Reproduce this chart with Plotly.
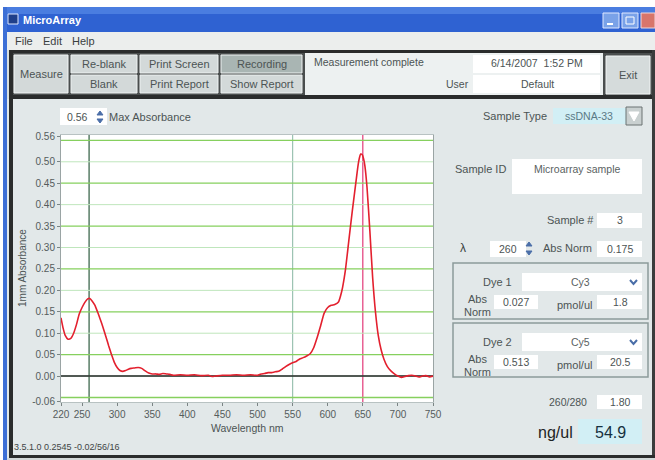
import plotly.graph_objects as go

# ---------------- data ----------------
wavelength_nm = [220, 223, 226, 230, 234, 238, 242, 246, 250, 254, 258, 261, 264, 268, 272, 276, 280,
                 284, 288, 292, 296, 300, 304, 308, 312, 316, 320, 325, 330, 335, 340, 345, 350, 355,
                 360, 365, 370, 375, 380, 390, 400, 410, 420, 430, 435, 440, 450, 460, 470, 480, 490,
                 500, 505, 510, 515, 520, 525, 530, 535, 540, 545, 550, 555, 560, 565, 570, 575, 580,
                 585, 590, 595, 600, 605, 610, 615, 620, 625, 630, 635, 640, 644, 647, 649, 651, 653,
                 656, 660, 664, 668, 672, 676, 680, 685, 690, 695, 700, 705, 710, 715, 720, 725, 730,
                 735, 740, 745, 750]
absorbance = [0.136, 0.112, 0.095, 0.086, 0.088, 0.100, 0.120, 0.145, 0.160, 0.172, 0.180, 0.181, 0.176,
              0.166, 0.150, 0.132, 0.113, 0.092, 0.070, 0.050, 0.032, 0.020, 0.013, 0.011, 0.013, 0.016,
              0.018, 0.019, 0.020, 0.018, 0.012, 0.007, 0.005, 0.005, 0.004, 0.006, 0.005, 0.004, 0.002,
              0.003, 0.002, 0.003, 0.001, 0.002, -0.001, 0.000, 0.002, 0.002, 0.003, 0.002, 0.003, 0.002,
              0.005, 0.006, 0.008, 0.008, 0.010, 0.011, 0.016, 0.022, 0.027, 0.031, 0.034, 0.040, 0.043,
              0.047, 0.052, 0.066, 0.090, 0.118, 0.147, 0.160, 0.165, 0.167, 0.172, 0.198, 0.245, 0.315,
              0.385, 0.450, 0.500, 0.518, 0.517, 0.508, 0.490, 0.440, 0.340, 0.230, 0.150, 0.095, 0.062,
              0.040, 0.022, 0.012, 0.005, 0.000, -0.003, -0.001, 0.001, 0.002, 0.000, -0.002, 0.000,
              0.001, -0.002, 0.000]
baseline_nm = [220, 750]
baseline_abs = [0.0, 0.0]
marker_nm = [260, 550, 650]
x_ticks = [220, 250, 300, 350, 400, 450, 500, 550, 600, 650, 700, 750]
y_ticks = [-0.06, 0.00, 0.05, 0.10, 0.15, 0.20, 0.25, 0.30, 0.35, 0.40, 0.45, 0.50, 0.56]
y_tick_text = ["-0.06", "0.00", "0.05", "0.10", "0.15", "0.20", "0.25", "0.30", "0.35",
               "0.40", "0.45", "0.50", "0.56"]
grid_levels = [-0.05, 0.00, 0.05, 0.10, 0.15, 0.20, 0.25, 0.30, 0.35, 0.40, 0.45, 0.50, 0.55]

# ---------------- geometry helpers ----------------
W, H = 655, 460
L, R, T, B = 61, 222, 135, 58
PW, PH = W - L - R, H - T - B


def px(x):
    return (x - L) / PW


def py(y):
    return 1 - (y - T) / PH


shapes = []
annos = []
FONT = "Liberation Sans, Arial, sans-serif"
PANEL = "#e2e8e9"


def rect(x0, y0, x1, y1, fill, line=None, lw=1):
    shapes.append(dict(type="rect", xref="paper", yref="paper", layer="below",
                       x0=px(x0), x1=px(x1), y0=py(y1), y1=py(y0), fillcolor=fill,
                       line=dict(color=line if line else fill, width=lw if line else 0)))


def path(d_pts, color, fill=None, lw=1, close=True):
    d = "M " + " L ".join(f"{px(a):.5f},{py(b):.5f}" for a, b in d_pts) + (" Z" if close else "")
    shapes.append(dict(type="path", xref="paper", yref="paper", layer="below", path=d,
                       fillcolor=fill if fill else "rgba(0,0,0,0)",
                       line=dict(color=color, width=lw)))


def text(x, y, s, size=11, color="#4c5454", anchor="left", bold=False, angle=0):
    annos.append(dict(xref="paper", yref="paper", x=px(x), y=py(y), text=f"<b>{s}</b>" if bold else s,
                      showarrow=False, xanchor=anchor, yanchor="middle", textangle=angle,
                      font=dict(family=FONT, size=size, color=color), borderpad=0))


# ---------------- window chrome ----------------
rect(0, 0, 655, 7, "#ffffff")
rect(0, 0, 3, 460, "#ffffff")
rect(3, 7, 655, 32, "#2f62d2")
rect(3, 7, 655, 14, "#4a7de0")
rect(3, 7, 7, 460, "#3d6fd6")
rect(8, 14, 18, 24, "#1f3f8a", "#dfe8ff", 1)
text(22, 20, "MicroArray", size=11, color="#ffffff", bold=True)
rect(603, 13, 619, 28, "#7aa2e8", "#dfe8ff", 1)
rect(622, 13, 638, 28, "#7aa2e8", "#dfe8ff", 1)
rect(641, 13, 655, 28, "#d8756a", "#f0d8d8", 1)
rect(607, 23, 613, 25, "#ffffff")
rect(626, 17, 634, 24, "rgba(0,0,0,0)", "#ffffff", 1)
# menu
rect(7, 32, 655, 50, "#eceeed")
text(14, 41, "File", size=11, color="#3a3f3f")
text(42, 41, "Edit", size=11, color="#3a3f3f")
text(71, 41, "Help", size=11, color="#3a3f3f")
# toolbar
rect(7, 50, 655, 99, "#d9dfdf")
rect(9, 50, 655, 53, "#2a2c2c")
rect(9, 95, 655, 99, "#2a2c2c")
rect(9, 50, 13, 458, "#2a2c2c")
rect(652, 50, 655, 458, "#3a3c3c")
rect(13, 53, 305, 95, "#4a4e4e")
rect(14, 55, 68, 93, "#d3d9d9", "#f2f5f5", 1)
text(41, 74, "Measure", anchor="center")
btns = [(71, 137, "Re-blank", "Blank"), (140, 218, "Print Screen", "Print Report"),
        (221, 302, "Recording", "Show Report")]
for x0, x1, t1, t2 in btns:
    rect(x0, 55, x1, 73, "#a9b5b3" if t1 == "Recording" else "#d3d9d9", "#eef2f2", 1)
    rect(x0, 75, x1, 93, "#d3d9d9", "#eef2f2", 1)
    text((x0 + x1) / 2, 64, t1, anchor="center")
    text((x0 + x1) / 2, 84, t2, anchor="center")
rect(305, 53, 603, 95, "#edf1f1")
text(313, 62, "Measurement complete", size=10.5)
rect(473, 55, 600, 73, "#ffffff")
rect(473, 75, 600, 93, "#ffffff")
text(537, 63, "6/14/2007  1:52 PM", size=10.5, anchor="center")
text(537, 84, "Default", size=10.5, anchor="center")
text(445, 84, "User", size=10.5)
rect(603, 53, 652, 95, "#4a4e4e")
rect(606, 56, 650, 94, "#d5dbdb", "#f2f5f5", 1)
text(628, 75, "Exit", anchor="center")
# bottom
rect(9, 455, 655, 458, "#2a2c2c")
rect(7, 458, 655, 460, "#d2d8d8")

# ---------------- left chart extras ----------------
rect(60, 108, 107, 125, "#ffffff")
text(66, 117, "0.56", size=10.5)
path([(97, 115), (103, 115), (100, 111)], "#4a6ea8", "#4a6ea8")
path([(97, 119), (103, 119), (100, 123)], "#4a6ea8", "#4a6ea8")
text(108, 117, "Max Absorbance", size=11)
text(22, 268, "1mm Absorbance", size=10, angle=-90, anchor="center")
text(247, 428, "Wavelength nm", size=10.5, anchor="center")
text(13, 447, "3.5.1.0 0.2545 -0.02/56/16", size=9, color="#3f4545")

# ---------------- right panel ----------------
text(548, 116, "Sample Type", anchor="right")
rect(553, 108, 626, 124, "#d2eff5")
text(589, 116, "ssDNA-33", size=10.5, color="#5a7a86", anchor="center")
rect(626, 107, 642, 125, "#c9d0d0", "#6a7272", 1)
path([(629, 112), (639, 112), (634, 121)], "#ffffff", "#ffffff")

text(507, 169, "Sample ID", anchor="right")
rect(512, 159, 642, 194, "#ffffff")
text(577, 169, "Microarray sample", size=10.5, color="#5a6262", anchor="center")

text(595, 220, "Sample #", anchor="right")
rect(597, 213, 642, 228, "#ffffff")
text(620, 220, "3", size=10.5, anchor="center")

text(463, 248, "\u03bb", size=12, color="#3a4040", anchor="center")
rect(490, 241, 526, 257, "#ffffff")
text(508, 249, "260", size=10.5, anchor="center")
path([(526, 246), (532, 246), (529, 242)], "#4a6ea8", "#4a6ea8")
path([(526, 251), (532, 251), (529, 255)], "#4a6ea8", "#4a6ea8")
text(593, 248, "Abs Norm", anchor="right")
rect(597, 241, 642, 257, "#ffffff")
text(620, 249, "0.175", size=10.5, anchor="center")

dyes = [(263, 319, "Dye 1", "Cy3", "0.027", "1.8"), (323, 377, "Dye 2", "Cy5", "0.513", "20.5")]
for y0, y1, name, dye, absn, pmol in dyes:
    rect(453, y0, 648, y1, "rgba(0,0,0,0)", "#8c9a9a", 1.5)
    text(513, y0 + 19, name, anchor="right")
    rect(522, y0 + 10, 642, y0 + 28, "#ffffff")
    text(580, y0 + 19, dye, size=10.5, color="#5a6262", anchor="center")
    path([(630, y0 + 17), (633.5, y0 + 21), (637, y0 + 17)], "#4a6ea8", None, 2, close=False)
    text(478, y0 + 36, "Abs", anchor="center")
    text(478, y0 + 49, "Norm", anchor="center")
    rect(494, y0 + 32, 538, y0 + 46, "#ffffff")
    text(516, y0 + 39, absn, size=10.5, anchor="center")
    text(593, y0 + 42, "pmol/ul", anchor="right")
    rect(597, y0 + 32, 642, y0 + 46, "#ffffff")
    text(620, y0 + 39, pmol, size=10.5, anchor="center")

text(588, 402, "260/280", size=10.5, anchor="right")
rect(597, 395, 642, 409, "#ffffff")
text(620, 402, "1.80", size=10.5, anchor="center")

text(574, 432, "ng/ul", size=16, color="#1e2424", anchor="right")
rect(578, 419, 642, 444, "#d2eff5")
text(610, 432, "54.9", size=16, color="#163040", anchor="center")

# ---------------- plot grid / markers ----------------
for i, g in enumerate(grid_levels):
    bright = round(g / 0.05) % 2 != 0
    shapes.append(dict(type="line", xref="x", yref="y", layer="below", x0=220, x1=750, y0=g, y1=g,
                       line=dict(color="#86d05e" if bright else "#bfe6bc", width=1.3 if bright else 1)))
marker_colors = ["#2e5c40", "#9cc2b2", "#e23a78"]
for m, c in zip(marker_nm, marker_colors):
    shapes.append(dict(type="line", xref="x", yref="paper", layer="below", x0=m, x1=m, y0=0, y1=1,
                       line=dict(color=c, width=1.2)))

fig = go.Figure()
fig.add_trace(go.Scatter(x=baseline_nm, y=baseline_abs, mode="lines",
                         line=dict(color="#222626", width=1.6), hoverinfo="skip"))
fig.add_trace(go.Scatter(x=wavelength_nm, y=absorbance, mode="lines",
                         line=dict(color="#e3202e", width=1.6, shape="spline", smoothing=0.6)))

fig.update_layout(
    width=W, height=H, margin=dict(l=L, r=R, t=T, b=B, pad=0), autosize=False,
    paper_bgcolor=PANEL, plot_bgcolor="#ffffff", showlegend=False,
    shapes=shapes, annotations=annos,
    font=dict(family=FONT, size=10, color="#555c5c"),
)
fig.update_xaxes(range=[220, 750], tickvals=x_ticks, ticktext=[str(v) for v in x_ticks],
                 showgrid=False, zeroline=False, showline=True, linecolor="#b8c2c2", linewidth=1,
                 mirror=True, ticks="outside", ticklen=3, tickcolor="#7a8484",
                 tickfont=dict(family=FONT, size=10, color="#555c5c"))
fig.update_yaxes(range=[-0.0605, 0.5625], tickvals=y_ticks, ticktext=y_tick_text,
                 showgrid=False, zeroline=False, showline=True, linecolor="#9aa4a4", linewidth=1,
                 mirror=True, ticks="outside", ticklen=3, tickcolor="#7a8484",
                 tickfont=dict(family=FONT, size=10, color="#555c5c"))

fig.write_html("out.html", config={"displayModeBar": False},
               post_script="document.body.style.margin='0';document.body.style.padding='0';")
